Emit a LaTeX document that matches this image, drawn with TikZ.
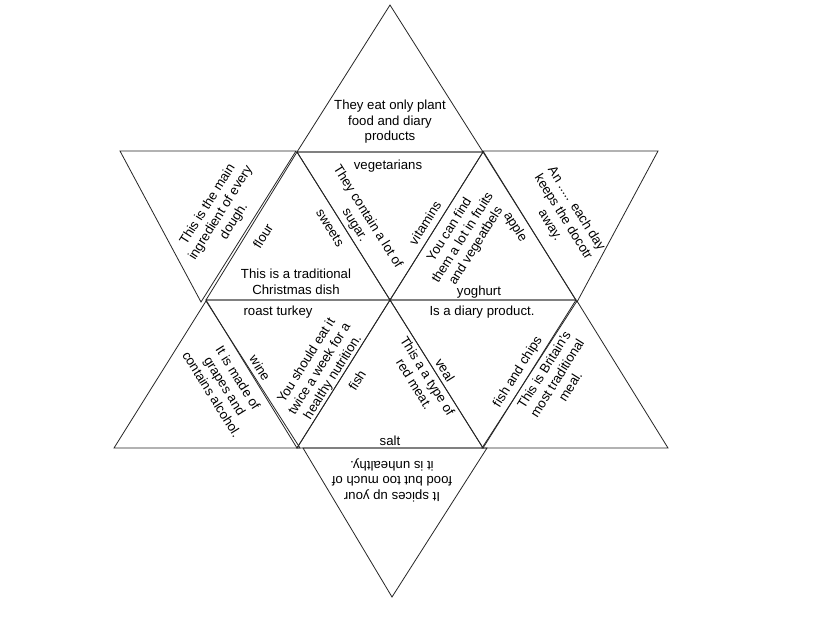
\documentclass[tikz,border=0pt]{standalone}
\usepackage{fontspec}
\setmainfont{Liberation Sans}
\begin{document}
\begin{tikzpicture}[x=1pt,y=-1pt,
  tri/.style={draw=black!85,line width=0.8pt,line join=miter},
  txt/.style={font=\fontsize{13.2}{15.5}\selectfont,align=center,inner sep=0pt,text=black}]
\useasboundingbox (0,0) rectangle (821,616);
\fill[white] (0,0) rectangle (821,616);
% vertices
\coordinate (tA) at (390,5);
\coordinate (p1) at (297,152);
\coordinate (p2) at (483,152);
\coordinate (l1) at (120,151);
\coordinate (l2) at (296,151);
\coordinate (l3) at (201,302);
\coordinate (r1) at (483,151);
\coordinate (r2) at (658,151);
\coordinate (r3) at (577,302);
\coordinate (q1) at (206,300);
\coordinate (q2) at (390,300);
\coordinate (q3) at (576,300);
\coordinate (s1) at (297,448);
\coordinate (s2) at (483,448);
\coordinate (w1) at (206,301);
\coordinate (w2) at (114,448);
\coordinate (w3) at (300,448);
\coordinate (b1) at (577,301);
\coordinate (b2) at (482,448);
\coordinate (b3) at (668,448);
\coordinate (z1) at (303,448);
\coordinate (z2) at (487,448);
\coordinate (z3) at (392,597);
% outer points
\draw[tri] (tA) -- (p1) -- (p2) -- cycle;
\draw[tri] (l1) -- (l2) -- (l3) -- cycle;
\draw[tri] (r1) -- (r2) -- (r3) -- cycle;
\draw[tri] (w1) -- (w2) -- (w3) -- cycle;
\draw[tri] (b1) -- (b2) -- (b3) -- cycle;
\draw[tri] (z1) -- (z2) -- (z3) -- cycle;
% inner hexagon
\draw[tri] (p1) -- (q1) -- (q2) -- cycle;
\draw[tri] (p1) -- (p2) -- (q2) -- cycle;
\draw[tri] (p2) -- (q2) -- (q3) -- cycle;
\draw[tri] (q1) -- (q2) -- (s1) -- cycle;
\draw[tri] (q2) -- (s1) -- (s2) -- cycle;
\draw[tri] (q2) -- (q3) -- (s2) -- cycle;
% texts
\node[txt] (t1) at (390,122) {They eat only plant\\food and diary\\products};
\node[txt,rotate=58] (t2) at (221,213) {This is the main\\ingredient of every\\dough.};
\node[txt,rotate=58] (t3) at (263,236) {flour};
\node[txt,rotate=-58] (t4) at (330,228) {sweets};
\node[txt] (t5) at (296,282) {This is a traditional\\Christmas dish};
\node[txt] (t6) at (388,166) {vegetarians};
\node[txt,rotate=-58] (t7) at (361,221) {They contain a lot of\\sugar.};
\node[txt,rotate=58] (t8) at (425,223) {vitamins};
\node[txt,rotate=58] (t9) at (463,238) {You can find\\them a lot in fruits\\and vegeatbels};
\node[txt,rotate=-58] (t10) at (515,227) {apple};
\node[txt] (t11) at (479,292) {yoghurt};
\node[txt,rotate=-58] (t12) at (563,217) {An ..... each day\\keeps the docotr\\away.};
\node[txt] (t13) at (278,312) {roast turkey};
\node[txt,rotate=-58] (t14) at (225,386) {It is made of\\grapes and\\contains alcohol.};
\node[txt,rotate=-58] (t15) at (260,368) {wine};
\node[txt,rotate=58] (t16) at (320,369) {You should eat it\\twice a week for a\\healthy nutrition.};
\node[txt,rotate=58] (t17) at (357,380) {fish};
\node[txt,rotate=-58] (t18) at (421,380) {This a a type of\\red meat.};
\node[txt,rotate=-58] (t19) at (445,370) {veal};
\node[txt] (t20) at (482,312) {Is a diary product.};
\node[txt,rotate=58] (t21) at (518,372) {fish and chips};
\node[txt,rotate=58] (t22) at (557,378) {This is Britain's\\most traditional\\meal.};
\node[txt] (t23) at (390,441) {salt};
\node[txt,rotate=180] (t24) at (392,480) {It spices up your\\food but too much of\\it is unhealthy.};
\end{tikzpicture}
\end{document}
